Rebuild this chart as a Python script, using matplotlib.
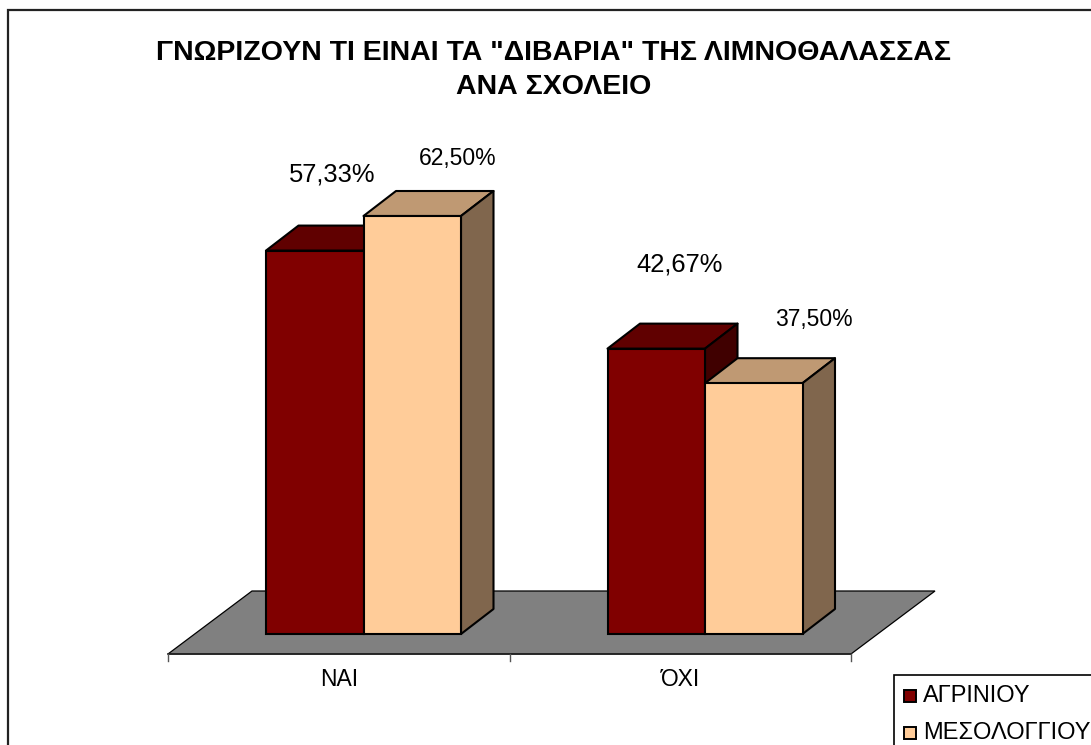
import numpy as np
import matplotlib
matplotlib.use("Agg")
import matplotlib.pyplot as plt
from matplotlib.patches import Polygon, Rectangle
from matplotlib.colors import to_rgb

plt.rcParams["font.family"] = ["Liberation Sans", "DejaVu Sans"]

# ============================================================
# 1) DATOS
# ============================================================
categorias = ["ΝΑΙ", "ΌΧΙ"]
series = ["ΑΓΡΙΝΙΟΥ", "ΜΕΣΟΛΟΓΓΙΟΥ"]
agrinio = [57.33, 42.67]
mesolongi = [62.50, 37.50]
etiquetas_agrinio = ["57,33%", "42,67%"]
etiquetas_mesolongi = ["62,50%", "37,50%"]
colores = ["#800000", "#FFCC99"]
titulo = 'ΓΝΩΡΙΖΟΥΝ ΤΙ ΕΙΝΑΙ ΤΑ "ΔΙΒΑΡΙΑ" ΤΗΣ ΛΙΜΝΟΘΑΛΑΣΣΑΣ\nΑΝΑ ΣΧΟΛΕΙΟ'

# ============================================================
# 2) ESCALAS (pixeles de la figura <-> datos)
# ============================================================
W, H = 1091, 745
PX_X = 341.5   # pixeles por categoria
PX_Y = 6.688   # pixeles por punto porcentual
X0, Y0 = 168, 634
ANCHO = 97.5 / PX_X
HUECO = 98 / PX_X
DX = 32.5 / PX_X
DY = 25 / PX_Y
LW = 1.5


def oscurecer(color, f):
    return tuple(c * f for c in to_rgb(color))


# ============================================================
# 3) DIBUJO
# ============================================================
def suelo(ax):
    y_f = -20 / PX_Y
    y_b = 43 / PX_Y
    dx = 84 / PX_X
    ax.add_patch(Polygon([(0, y_f), (2, y_f), (2 + dx, y_b), (dx, y_b)],
                         facecolor="#808080", edgecolor="black", lw=0.9, zorder=1))
    ax.plot([0, 2], [y_f, y_f], color="#222222", lw=1.2, zorder=2)
    for x in [0, 1, 2]:
        ax.plot([x, x], [y_f, y_f - 7 / PX_Y], color="#555555", lw=1, zorder=2)
    for i, cat in enumerate(categorias):
        ax.text(i + 0.5, y_f - 25 / PX_Y, cat, ha="center", va="center", fontsize=16.5)


def barra(ax, x, valor, color, z):
    ax.bar(x, valor, width=ANCHO, align="edge", color=color, edgecolor="black",
           linewidth=LW, zorder=z + 0.2)
    x2 = x + ANCHO
    arriba = [(x, valor), (x2, valor), (x2 + DX, valor + DY), (x + DX, valor + DY)]
    lado = [(x2, 0), (x2 + DX, DY), (x2 + DX, valor + DY), (x2, valor)]
    ax.add_patch(Polygon(arriba, facecolor=oscurecer(color, 0.75), edgecolor="black",
                         lw=LW, joinstyle="round", zorder=z))
    ax.add_patch(Polygon(lado, facecolor=oscurecer(color, 0.5), edgecolor="black",
                         lw=LW, joinstyle="round", zorder=z))


def etiquetas(ax):
    # desplazamientos en pixeles respecto a la barra
    ax.text(HUECO + 66 / PX_X, agrinio[0] + 76 / PX_Y, etiquetas_agrinio[0],
            ha="center", va="center", fontsize=18.4)
    ax.text(1 + HUECO + 72 / PX_X, agrinio[1] + 84 / PX_Y, etiquetas_agrinio[1],
            ha="center", va="center", fontsize=18.4)
    ax.text(HUECO + ANCHO + 94 / PX_X, mesolongi[0] + 58 / PX_Y, etiquetas_mesolongi[0],
            ha="center", va="center", fontsize=16.5)
    ax.text(1 + HUECO + ANCHO + 109 / PX_X, mesolongi[1] + 64 / PX_Y, etiquetas_mesolongi[1],
            ha="center", va="center", fontsize=16.5)


def leyenda(fig):
    fig.add_artist(Rectangle((894 / W, 1 - 760 / H), 220 / W, 85 / H, transform=fig.transFigure,
                             facecolor="white", edgecolor="black", lw=1.2))
    for color, nombre, y in zip(colores, series, [696, 733]):
        fig.add_artist(Rectangle((904 / W, 1 - (y + 6) / H), 12 / W, 12 / H,
                                 transform=fig.transFigure, facecolor=color,
                                 edgecolor="black", lw=1.4))
        fig.text(923 / W, 1 - y / H, nombre, ha="left", va="center", fontsize=17)


def main():
    fig = plt.figure(figsize=(W / 100, H / 100), dpi=100, facecolor="white")
    ax = fig.add_axes([0, 0, 1, 1])
    ax.set_xlim(-X0 / PX_X, (W - X0) / PX_X)
    ax.set_ylim((Y0 - H) / PX_Y, Y0 / PX_Y)
    ax.axis("off")

    # marco exterior
    fig.add_artist(Rectangle((8 / W, 1 - 760 / H), 1100 / W, 750 / H, transform=fig.transFigure,
                             facecolor="none", edgecolor="#222222", lw=1.6))

    suelo(ax)
    for i in range(len(categorias)):
        x = i + HUECO
        barra(ax, x, agrinio[i], colores[0], 3 + i)
        barra(ax, x + ANCHO, mesolongi[i], colores[1], 3.5 + i)
    etiquetas(ax)
    leyenda(fig)

    fig.text(554 / W, 1 - 70 / H, titulo, ha="center", va="center", fontsize=20.5,
             fontweight="bold", linespacing=1.35)

    fig.savefig("out.png", dpi=100)


if __name__ == "__main__":
    main()
